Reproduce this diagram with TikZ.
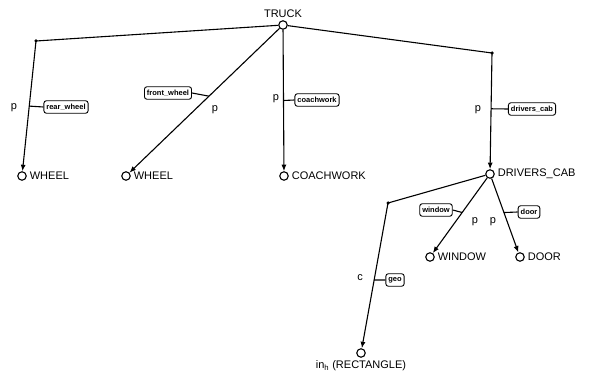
\documentclass[tikz,border=0pt]{standalone}
\usepackage{fontspec}
\setmainfont{Liberation Sans}
\usetikzlibrary{arrows.meta}
\begin{document}
\begin{tikzpicture}[x=1pt,y=-1pt,line width=1.1pt,
        obj/.style={circle,draw,inner sep=0pt,minimum size=8.5pt},
        lbl/.style={font=\fontsize{11}{12}\selectfont,inner sep=2.5pt},
        role/.style={draw,rounded corners=2.5pt,line width=0.9pt,font=\fontsize{7.5}{8}\selectfont\bfseries,inner sep=2.5pt,minimum height=12.5pt},
        part/.style={-{Latex[length=6.5pt,width=5pt]}},
        knee/.style={circle,fill,inner sep=0pt,minimum size=3.5pt}]
        \useasboundingbox (0,0) rectangle (603,377);
        % objects
        \node[obj] (truck) at (283,25) {};
        \node[lbl,above] (truckname) at (truck.north) {TRUCK};
        \node[obj] (wheelA) at (22,176) {};
        \node[lbl,right] (wheelAname) at (wheelA.east) {WHEEL};
        \node[obj] (wheelB) at (126,176) {};
        \node[lbl,right] (wheelBname) at (wheelB.east) {WHEEL};
        \node[obj] (coach) at (284,176) {};
        \node[lbl,right] (coachname) at (coach.east) {COACHWORK};
        \node[obj] (cab) at (490,174) {};
        \node[lbl,right] (cabname) at (cab.east) {DRIVERS\_CAB};
        \node[obj] (window) at (430,257) {};
        \node[lbl,right] (windowname) at (window.east) {WINDOW};
        \node[obj] (door) at (520,257) {};
        \node[lbl,right] (doorname) at (door.east) {DOOR};
        \node[obj] (rect) at (361,353) {};
        \node[lbl,below] (rectname) at (rect.south) {in\textsubscript{h} (RECTANGLE)};
        \node[knee] (kneeA) at (36,41) {};
        \node[knee] (kneeD) at (492,53) {};
        \node[knee] (kneeG) at (388,203) {};
        % part links
        \draw[part] (truck) -- (kneeA.center) -- (wheelA) coordinate[pos=0.5] (tickA);
        \draw[part] (truck) -- (wheelB) coordinate[pos=0.47] (tickB);
        \draw[part] (truck) -- (coach) coordinate[pos=0.5] (tickC);
        \draw[part] (truck) -- (kneeD.center) -- (cab) coordinate[pos=0.48] (tickD);
        \draw[part] (cab) -- (kneeG.center) -- (rect) coordinate[pos=0.53] (tickG);
        \draw[part] (cab) -- (window) coordinate[pos=0.46] (tickW);
        \draw[part] (cab) -- (door) coordinate[pos=0.46] (tickR);
        % role names
        \node[role] (rearw) at (66,107) {rear\_wheel};
        \node[role] (frontw) at (168,93) {front\_wheel};
        \node[role] (coachw) at (317,100) {coachwork};
        \node[role] (cabw) at (532,109) {drivers\_cab};
        \node[role] (geow) at (395,280) {geo};
        \node[role] (windoww) at (436,210) {window};
        \node[role] (doorw) at (529,212) {door};
        \draw (tickA) -- (rearw.west);
        \draw (tickB) -- (frontw.east);
        \draw (tickC) -- (coachw.west);
        \draw (tickD) -- (cabw.west);
        \draw (tickG) -- (geow.west);
        \draw (tickW) -- (windoww.east);
        \draw (tickR) -- (doorw.west);
        % link kinds
        \node[lbl] (kindA) at (14,108) {p};
        \node[lbl] (kindB) at (215,110) {p};
        \node[lbl] (kindC) at (276,99) {p};
        \node[lbl] (kindD) at (478,110) {p};
        \node[lbl] (kindG) at (360,278) {c};
        \node[lbl] (kindW) at (475,222) {p};
        \node[lbl] (kindR) at (493,222) {p};
    \end{tikzpicture}
\end{document}
